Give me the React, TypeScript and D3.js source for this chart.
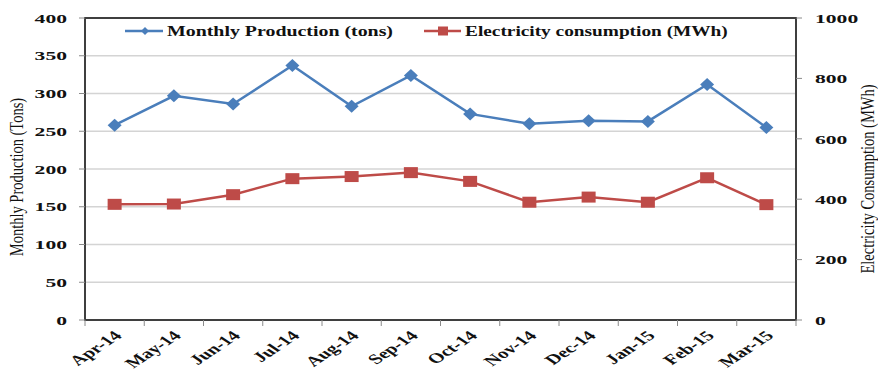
import React from "react";
import * as d3 from "d3";

const categories = ["Apr-14", "May-14", "Jun-14", "Jul-14", "Aug-14", "Sep-14", "Oct-14", "Nov-14", "Dec-14", "Jan-15", "Feb-15", "Mar-15"];
const production = [258, 297, 286, 337, 283, 324, 273, 260, 264, 263, 312, 255];
const electricity = [383, 384, 415, 468, 475, 488, 459, 390, 407, 390, 471, 382];
const leftTicks = [0, 50, 100, 150, 200, 250, 300, 350, 400];
const rightTicks = [0, 200, 400, 600, 800, 1000];

const W = 878, H = 370;
const M = { left: 85, right: 796, top: 18, bottom: 320 };
const BLUE = "#4a7ebb";
const RED = "#be4b48";
const FONT = "'Liberation Serif', 'Times New Roman', serif";

export default function App() {
  const x = d3.scaleBand<string>().domain(categories).range([M.left, M.right]);
  const yL = d3.scaleLinear().domain([0, 400]).range([M.bottom, M.top]);
  const yR = d3.scaleLinear().domain([0, 1000]).range([M.bottom, M.top]);
  const cx = (c: string) => (x(c) as number) + x.bandwidth() / 2;

  const lineP = d3.line<number>().x((_, i) => cx(categories[i])).y((d) => yL(d));
  const lineE = d3.line<number>().x((_, i) => cx(categories[i])).y((d) => yR(d));

  const ticksX = [...categories.map((c) => x(c) as number), M.right];

  return (
    <svg width={W} height={H} style={{ position: "absolute", left: 0, top: 0, background: "#fff" }}>
      {/* gridlines */}
      {leftTicks.slice(1, -1).map((t) => (
        <line key={"g" + t} x1={M.left} x2={M.right} y1={yL(t)} y2={yL(t)} stroke="#d4d4d4" strokeWidth={1.5} />
      ))}
      {/* frame */}
      <rect x={M.left} y={M.top} width={M.right - M.left} height={M.bottom - M.top} fill="none" stroke="#3f3f3f" strokeWidth={2} />
      {/* left ticks */}
      {leftTicks.map((t) => (
        <g key={"l" + t}>
          <line x1={M.left - 6} x2={M.left} y1={yL(t)} y2={yL(t)} stroke="#8a8a8a" strokeWidth={1} />
          <text transform={`translate(67,${yL(t)}) scale(1.6,1)`} dy="0.35em" textAnchor="end" fontFamily={FONT} fontWeight="bold" fontSize={13.5} fill="#111">{t}</text>
        </g>
      ))}
      {/* right ticks */}
      {rightTicks.map((t) => (
        <g key={"r" + t}>
          <line x1={M.right} x2={M.right + 6} y1={yR(t)} y2={yR(t)} stroke="#8a8a8a" strokeWidth={1} />
          <text transform={`translate(815,${yR(t)}) scale(1.6,1)`} dy="0.35em" textAnchor="start" fontFamily={FONT} fontWeight="bold" fontSize={13.5} fill="#111">{t}</text>
        </g>
      ))}
      {/* x ticks */}
      {ticksX.map((t, i) => (
        <line key={"x" + i} x1={t} x2={t} y1={M.bottom} y2={M.bottom + 6} stroke="#8a8a8a" strokeWidth={1} />
      ))}
      {categories.map((c) => (
        <text key={c} transform={`translate(${cx(c) + 3},${M.bottom + 13}) scale(1.5,1) rotate(-45)`} textAnchor="end" dy="0.35em" fontFamily={FONT} fontWeight="bold" fontSize={14} fill="#111">{c}</text>
      ))}
      {/* axis titles */}
      <text transform={`translate(23,${(M.top + M.bottom) / 2 + 8}) scale(1.3,1) rotate(-90)`} textAnchor="middle" fontFamily={FONT} fontSize={14.5} fill="#111">Monthly Production (Tons)</text>
      <text transform={`translate(874,${(M.top + M.bottom) / 2 + 10}) scale(1.3,1) rotate(-90)`} textAnchor="middle" fontFamily={FONT} fontSize={14.5} fill="#111">Electricity Consumption (MWh)</text>
      {/* series */}
      <path d={lineP(production) as string} fill="none" stroke={BLUE} strokeWidth={2.5} />
      {production.map((v, i) => {
        const px = cx(categories[i]), py = yL(v);
        return <path key={"p" + i} d={`M${px},${py - 6.5}L${px + 7},${py}L${px},${py + 6.5}L${px - 7},${py}Z`} fill={BLUE} />;
      })}
      <path d={lineE(electricity) as string} fill="none" stroke={RED} strokeWidth={2.5} />
      {electricity.map((v, i) => {
        const px = cx(categories[i]), py = yR(v);
        return <rect key={"e" + i} x={px - 7} y={py - 5.5} width={14} height={11} fill={RED} />;
      })}
      {/* legend */}
      <line x1={125} x2={163} y1={31} y2={31} stroke={BLUE} strokeWidth={2.5} />
      <path d="M145,27L149,31L145,35L141,31Z" fill={BLUE} />
      <text transform="translate(167,31) scale(1.42,1)" dy="0.35em" fontFamily={FONT} fontWeight="bold" fontSize={14} fill="#111">Monthly Production (tons)</text>
      <line x1={424} x2={461} y1={31} y2={31} stroke={RED} strokeWidth={2.5} />
      <rect x={438} y={26.5} width={10} height={9} fill={RED} />
      <text transform="translate(465,31) scale(1.38,1)" dy="0.35em" fontFamily={FONT} fontWeight="bold" fontSize={14} fill="#111">Electricity consumption (MWh)</text>
    </svg>
  );
}
